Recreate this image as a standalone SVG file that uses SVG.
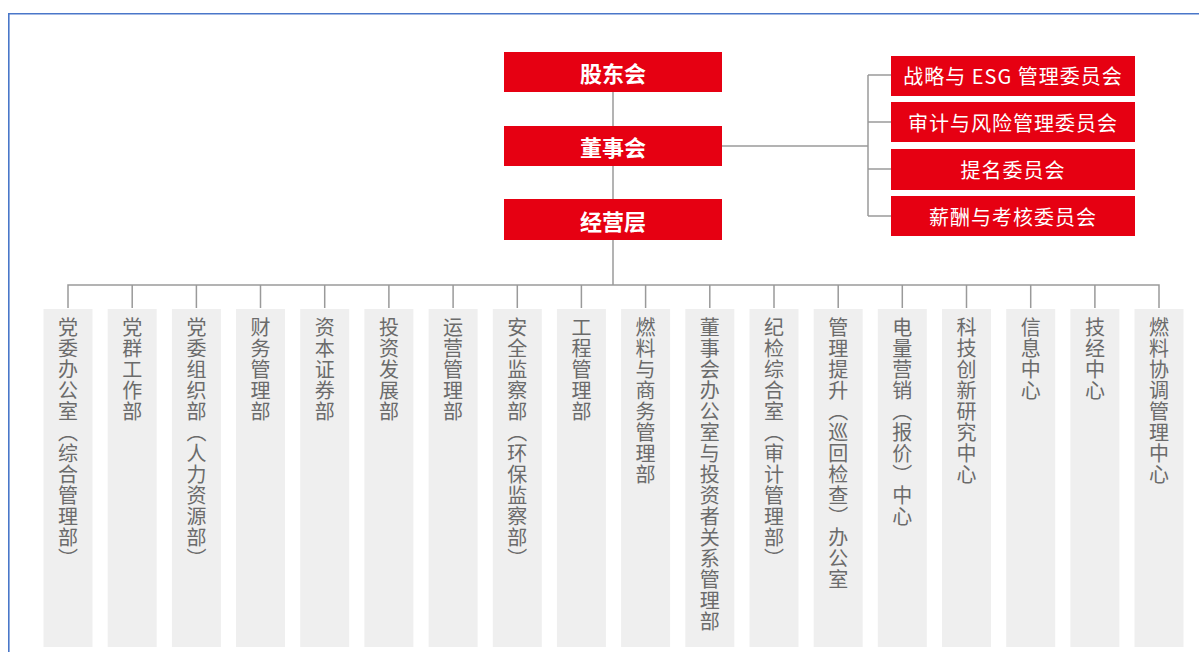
<svg xmlns="http://www.w3.org/2000/svg" width="1199" height="652" viewBox="0 0 1199 652">
<style>
.frame{fill:none;stroke:#4a77c9;stroke-width:1.6}
.conn{fill:none;stroke:#9a9a9a;stroke-width:1.5}
.red{fill:#e60012}
.main{font-family:"Noto Sans CJK SC","Noto Sans",sans-serif;font-size:22px;font-weight:bold;fill:#fff;text-anchor:middle;dominant-baseline:central}
.com{font-family:"Noto Sans CJK SC","Noto Sans",sans-serif;font-size:20px;fill:#fff;text-anchor:middle;dominant-baseline:central;letter-spacing:1px}
.col{fill:#efefef}
.vt{font-family:"Noto Sans CJK SC","Noto Sans",sans-serif;font-size:20px;fill:#6b6b6b;writing-mode:vertical-rl;letter-spacing:1px}
</style>
<rect width="1199" height="652" fill="#fff"/>
<path class="frame" d="M8.8,652 V13.8 H1199"/>
<g id="connectors">
<path class="conn" d="M613,92 V126 M613,166 V199 M613,240 V285"/>
<path class="conn" d="M722,146 H868 M868,75 V216 M868,75 H891 M868,122 H891 M868,169 H891 M868,216 H891"/>
<path class="conn" d="M68,308 V285 H1159 V308 M132.2,285 V308 M196.4,285 V308 M260.5,285 V308 M324.7,285 V308 M388.9,285 V308 M453.1,285 V308 M517.3,285 V308 M581.4,285 V308 M645.6,285 V308 M709.8,285 V308 M774,285 V308 M838.2,285 V308 M902.3,285 V308 M966.5,285 V308 M1030.7,285 V308 M1094.9,285 V308"/>
</g>
<g id="gudonghui"><rect class="red" x="504" y="52" width="218" height="40"/><text class="main" x="613" y="72">股东会</text></g>
<g id="dongshihui"><rect class="red" x="504" y="126" width="218" height="40"/><text class="main" x="613" y="146">董事会</text></g>
<g id="jingyingceng"><rect class="red" x="504" y="199" width="218" height="41"/><text class="main" x="613" y="219.5">经营层</text></g>
<g id="com1"><rect class="red" x="891" y="56" width="244" height="40"/><text class="com" x="1013" y="75">战略与 ESG 管理委员会</text></g>
<g id="com2"><rect class="red" x="891" y="102" width="244" height="40"/><text class="com" x="1013" y="122">审计与风险管理委员会</text></g>
<g id="com3"><rect class="red" x="891" y="149" width="244" height="41"/><text class="com" x="1013" y="169">提名委员会</text></g>
<g id="com4"><rect class="red" x="891" y="196" width="244" height="40"/><text class="com" x="1013" y="216">薪酬与考核委员会</text></g>
<g id="d1"><rect class="col" x="43.5" y="309" width="49" height="338"/><text class="vt" x="68" y="317">党委办公室（综合管理部）</text></g>
<g id="d2"><rect class="col" x="107.7" y="309" width="49" height="338"/><text class="vt" x="132.2" y="317">党群工作部</text></g>
<g id="d3"><rect class="col" x="171.9" y="309" width="49" height="338"/><text class="vt" x="196.4" y="317">党委组织部（人力资源部）</text></g>
<g id="d4"><rect class="col" x="236" y="309" width="49" height="338"/><text class="vt" x="260.5" y="317">财务管理部</text></g>
<g id="d5"><rect class="col" x="300.2" y="309" width="49" height="338"/><text class="vt" x="324.7" y="317">资本证券部</text></g>
<g id="d6"><rect class="col" x="364.4" y="309" width="49" height="338"/><text class="vt" x="388.9" y="317">投资发展部</text></g>
<g id="d7"><rect class="col" x="428.6" y="309" width="49" height="338"/><text class="vt" x="453.1" y="317">运营管理部</text></g>
<g id="d8"><rect class="col" x="492.8" y="309" width="49" height="338"/><text class="vt" x="517.3" y="317">安全监察部（环保监察部）</text></g>
<g id="d9"><rect class="col" x="556.9" y="309" width="49" height="338"/><text class="vt" x="581.4" y="317">工程管理部</text></g>
<g id="d10"><rect class="col" x="621.1" y="309" width="49" height="338"/><text class="vt" x="645.6" y="317">燃料与商务管理部</text></g>
<g id="d11"><rect class="col" x="685.3" y="309" width="49" height="338"/><text class="vt" x="709.8" y="317">董事会办公室与投资者关系管理部</text></g>
<g id="d12"><rect class="col" x="749.5" y="309" width="49" height="338"/><text class="vt" x="774" y="317">纪检综合室（审计管理部）</text></g>
<g id="d13"><rect class="col" x="813.7" y="309" width="49" height="338"/><text class="vt" x="838.2" y="317">管理提升（巡回检查）办公室</text></g>
<g id="d14"><rect class="col" x="877.8" y="309" width="49" height="338"/><text class="vt" x="902.3" y="317">电量营销（报价）中心</text></g>
<g id="d15"><rect class="col" x="942" y="309" width="49" height="338"/><text class="vt" x="966.5" y="317">科技创新研究中心</text></g>
<g id="d16"><rect class="col" x="1006.2" y="309" width="49" height="338"/><text class="vt" x="1030.7" y="317">信息中心</text></g>
<g id="d17"><rect class="col" x="1070.4" y="309" width="49" height="338"/><text class="vt" x="1094.9" y="317">技经中心</text></g>
<g id="d18"><rect class="col" x="1134.5" y="309" width="49" height="338"/><text class="vt" x="1159" y="317">燃料协调管理中心</text></g>
</svg>
